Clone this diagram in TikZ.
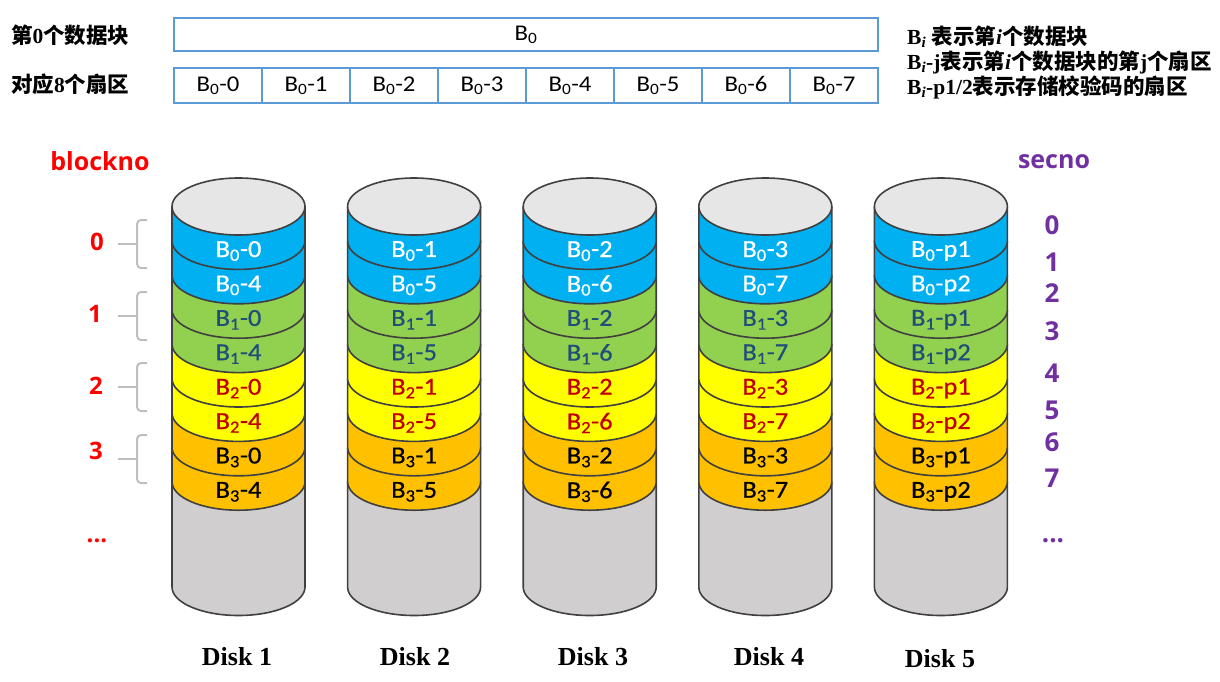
\documentclass[tikz,border=0pt]{standalone}
\usepackage{fontspec}
\setmainfont{Liberation Serif}
\newfontfamily\calfont{Carlito}[FakeStretch=1.1]
\newfontfamily\calbfont{Carlito}[FakeStretch=1.08,FakeBold=0.6]
\newfontfamily\cjk{Noto Sans CJK SC}
\newfontfamily\osans{Open Sans}
\definecolor{bc0}{HTML}{00B0F0}
\definecolor{bc1}{HTML}{92D050}
\definecolor{bc2}{HTML}{FFFF00}
\definecolor{bc3}{HTML}{FFC000}
\definecolor{tc0}{HTML}{FFFFFF}
\definecolor{tc1}{HTML}{1F4E79}
\definecolor{tc2}{HTML}{C00000}
\definecolor{tc3}{HTML}{000000}
\definecolor{bodygray}{HTML}{D0CECE}
\definecolor{topgray}{HTML}{E7E6E6}
\definecolor{outline}{HTML}{404040}
\definecolor{boxblue}{HTML}{5B9BD5}
\definecolor{bracegray}{HTML}{BFBFBF}
\definecolor{redlab}{HTML}{FF0000}
\definecolor{purplelab}{HTML}{7030A0}
\begin{document}
\begin{tikzpicture}[x=1pt,y=-1pt,
  diskline/.style={draw=outline,line width=1.6pt},
  topbox/.style={draw=boxblue,line width=2pt,inner sep=0pt,font=\calfont\fontsize{22.5}{22.5}\selectfont},
  secbox/.style={topbox,minimum width=88pt,minimum height=35pt},
  disktext/.style={inner sep=0pt,font=\calbfont\fontsize{24.5}{24.5}\selectfont},
  lefttext/.style={anchor=west,inner sep=0pt,font=\fontsize{21.5}{21.5}\selectfont},
  legend/.style={anchor=west,inner sep=0pt,font=\fontsize{21.5}{21.5}\selectfont},
  bracec/.style={draw=bracegray,line width=2pt},
  rednum/.style={text=redlab,inner sep=0pt,font=\osans\bfseries\fontsize{24}{24}\selectfont},
  purnum/.style={text=purplelab,inner sep=0pt,font=\osans\bfseries\fontsize{26}{26}\selectfont},
  disklab/.style={inner sep=0pt,font=\bfseries\fontsize{26}{26}\selectfont}
]
\useasboundingbox (0,0) rectangle (1220,681);

% top legend boxes
\node[lefttext] (lab0) at (11,35) {{\cjk\bfseries 第}\textbf{0}{\cjk\bfseries 个数据块}};
\node[lefttext] (lab8) at (11,84) {{\cjk\bfseries 对应}\textbf{8}{\cjk\bfseries 个扇区}};
\node[topbox,minimum width=704pt,minimum height=33pt] (b0) at (526,34.5) {B\textsubscript{0}};
\foreach \j in {0,...,7} {
  \node[secbox] (s\j) at (218+88*\j,85.5) {B\textsubscript{0}-\j};
}
\node[legend] (lg1) at (907,37) {\textbf{B\textsubscript{\textit{i}}} {\cjk\bfseries 表示第}\textbf{\textit{i}}{\cjk\bfseries 个数据块}};
\node[legend] (lg2) at (907,62) {\textbf{B\textsubscript{\textit{i}}}\textbf{-j}{\cjk\bfseries 表示第}\textbf{\textit{i}}{\cjk\bfseries 个数据块的第}\textbf{j}{\cjk\bfseries 个扇区}};
\node[legend] (lg3) at (907,87) {\textbf{B\textsubscript{\textit{i}}}\textbf{-p1/2}{\cjk\bfseries 表示存储校验码的扇区}};

% column headings
\node[text=redlab,inner sep=0pt,font=\osans\bfseries\fontsize{25}{25}\selectfont] (blockno) at (100,161) {blockno};
\node[text=purplelab,inner sep=0pt,font=\osans\bfseries\fontsize{25}{25}\selectfont] (secno) at (1054,162) {secno};

% disks
\foreach \d in {0,...,4} {
  \pgfmathsetmacro\cx{238.5+175.6*\d}
  \pgfmathsetmacro\L{\cx-66.5}
  \pgfmathsetmacro\R{\cx+66.5}
  \fill[bodygray] (\L,481.7) -- (\L,587) arc[start angle=180,end angle=0,x radius=66.5,y radius=28.5] -- (\R,481.7) -- cycle;
  \draw[diskline] (\L,481.7) -- (\L,587) arc[start angle=180,end angle=0,x radius=66.5,y radius=28.5] -- (\R,481.7);
  \foreach \k in {7,6,...,0} {
    \pgfmathsetmacro\ca{206.5+34.4*\k}
    \pgfmathsetmacro\cb{\ca+34.4}
    \pgfmathtruncatemacro\blk{int(\k/2)}
    \fill[bc\blk] (\L,\ca) -- (\L,\cb) arc[start angle=180,end angle=0,x radius=66.5,y radius=28.5] -- (\R,\ca) -- cycle;
    \draw[diskline] (\L,\ca) -- (\L,\cb) arc[start angle=180,end angle=0,x radius=66.5,y radius=28.5] -- (\R,\ca);
  }
  \filldraw[diskline,fill=topgray] (\cx,206.5) ellipse[x radius=66.5,y radius=28.5];
  \foreach \k in {0,...,7} {
    \pgfmathtruncatemacro\blk{int(\k/2)}
    \pgfmathtruncatemacro\half{mod(\k,2)}
    \pgfmathtruncatemacro\secn{\half*4+\d}
    \pgfmathtruncatemacro\pnum{\half+1}
    \ifnum\d=4
      \node[disktext,text=tc\blk] (t\d\k) at (\cx,251+34.4*\k) {B\textsubscript{\blk}-p\pnum};
    \else
      \node[disktext,text=tc\blk] (t\d\k) at (\cx,251+34.4*\k) {B\textsubscript{\blk}-\secn};
    \fi
  }
}

% disk labels
\node[disklab] (d1) at (237,657) {Disk 1};
\node[disklab] (d2) at (415,657) {Disk 2};
\node[disklab] (d3) at (593,657) {Disk 3};
\node[disklab] (d4) at (769,657) {Disk 4};
\node[disklab] (d5) at (940,659) {Disk 5};

% braces and block numbers
\foreach \m/\n/\nx/\ny [count=\i] in {244/0/97/242, 316/1/95/314, 387/2/96/386, 459/3/96/451} {
  \draw[bracec,rounded corners=4pt] (147,\m-24) -- (137,\m-24) -- (137,\m+24) -- (147,\m+24);
  \coordinate (bm\i) at (137,\m);
  \coordinate (bt\i) at (118,\m);
  \draw[bracec] (bt\i) -- (bm\i);
  \node[rednum] (r\i) at (\nx,\ny) {\n};
}
\node[rednum] (rdots) at (97,541) {...};

% sector numbers
\foreach \y/\n in {225/0, 262/1, 293/2, 331/3, 373/4, 410/5, 442/6, 478/7} {
  \node[purnum] (p\n) at (1052,\y) {\n};
}
\node[purnum] (pdots) at (1053,541) {...};
\end{tikzpicture}
\end{document}
